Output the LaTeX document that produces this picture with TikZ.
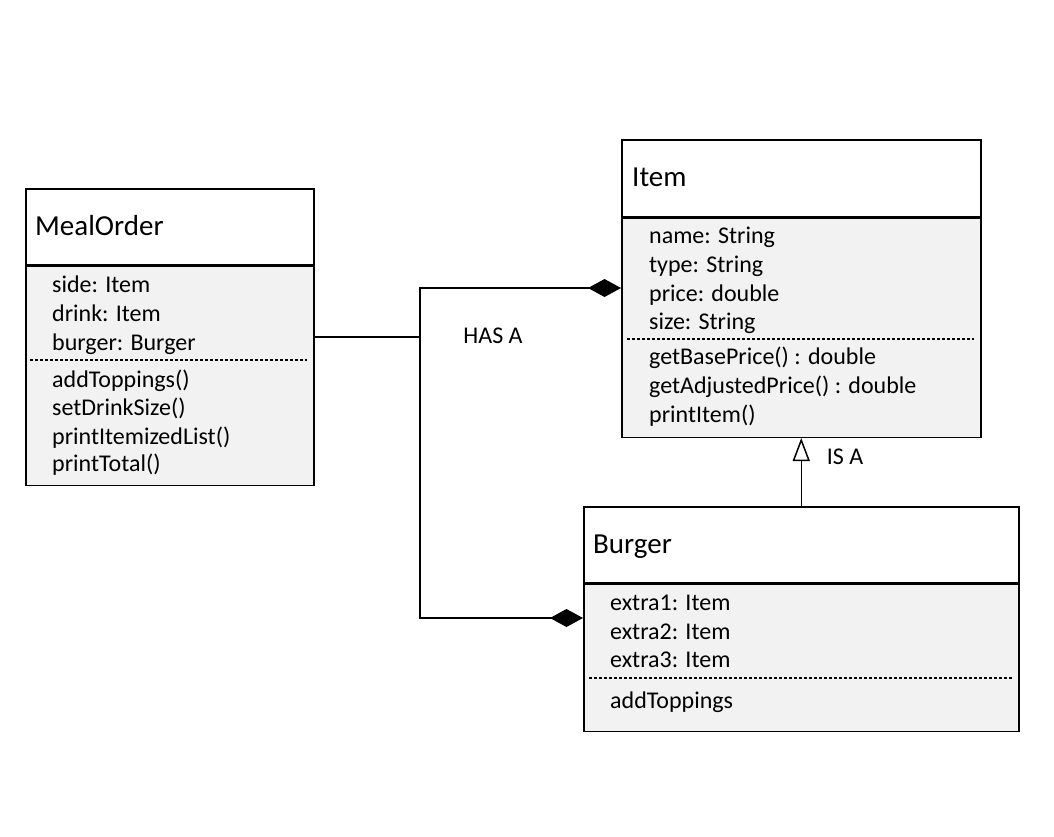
\documentclass[tikz,border=0pt]{standalone}
\usepackage{fontspec}
\setmainfont{Carlito}
\usetikzlibrary{positioning,arrows.meta}
\definecolor{bodygray}{HTML}{F2F2F2}
\tikzset{%
classhead/.style={draw,rectangle,line width=1.5pt,inner sep=0},
classbody/.style={draw,rectangle,fill=bodygray,line width=1.5pt,inner sep=0},
classtitle/.style={anchor=base west,inner sep=0,font=\fontsize{29}{35}\selectfont},
member/.style={anchor=base west,inner sep=0,font=\fontsize{24}{29}\selectfont},
relname/.style={inner sep=0,font=\fontsize{24}{29}\selectfont},
sepline/.style={dash pattern=on 3pt off 2pt,line width=1.2pt},
assoc/.style={line width=1.5pt},
compose/.style={assoc,{Diamond[length=33pt,width=18pt]}-{Diamond[length=33pt,width=18pt]}},
inherit/.style={assoc,-{Triangle[open,length=23pt,width=17pt,line width=1.5pt]}}
}
\begin{document}
\begin{tikzpicture}[x=1pt,y=-1pt]
    \useasboundingbox[fill=white] (0,0) rectangle (1054,836);

    % MealOrder
    \node[classhead,minimum width=288pt,minimum height=76pt,anchor=north west] (mealhead) at (25,188) {};
    \node[classbody,minimum width=288pt,minimum height=219pt,below=0pt of mealhead] (mealbody) {};
    \node[classtitle] (mealname) at (35,235) {MealOrder};
    \foreach \txt/\y [count=\i] in {side: Item/292, drink: Item/321, burger: Burger/350,
        addToppings()/387, setDrinkSize()/415, printItemizedList()/444, printTotal()/471}
        \node[member] (meal\i) at (52,\y) {\txt};
    \draw[sepline] (30,360) -- (307,360);

    % Item
    \node[classhead,minimum width=359pt,minimum height=77pt,anchor=north west] (itemhead) at (621,139) {};
    \node[classbody,minimum width=359pt,minimum height=219pt,below=0pt of itemhead] (itembody) {};
    \node[classtitle] (itemname) at (632,186) {Item};
    \foreach \txt/\y [count=\i] in {name: String/243, type: String/272, price: double/301, size: String/329,
        getBasePrice() : double/364, getAdjustedPrice() : double/393, printItem()/422}
        \node[member] (item\i) at (649,\y) {\txt};
    \draw[sepline] (627,339) -- (974,339);

    % Burger
    \node[classhead,minimum width=435pt,minimum height=76pt,anchor=north west] (burgerhead) at (583,506) {};
    \node[classbody,minimum width=435pt,minimum height=147pt,below=0pt of burgerhead] (burgerbody) {};
    \node[classtitle] (burgername) at (593,553) {Burger};
    \foreach \txt/\y [count=\i] in {extra1: Item/610, extra2: Item/639, extra3: Item/667, addToppings/708}
        \node[member] (burger\i) at (610,\y) {\txt};
    \draw[sepline] (589,678) -- (1013,678);

    % has a
    \coordinate (hasjoint) at (420,337);
    \coordinate (hastop) at (420,288);
    \coordinate (hasbot) at (420,618);
    \draw[assoc] (mealbody.east |- hasjoint) -- (hasjoint);
    \draw[compose] (itembody.west |- hastop) -- (hastop) -- (hasbot) -- (burgerbody.west |- hasbot);
    \node[relname] (hasa) at (493,336) {HAS A};

    % is a
    \draw[inherit] (burgerhead.north) -- (burgerhead.north |- itembody.south);
    \node[relname] (isa) at (845,457) {IS A};
\end{tikzpicture}
\end{document}
